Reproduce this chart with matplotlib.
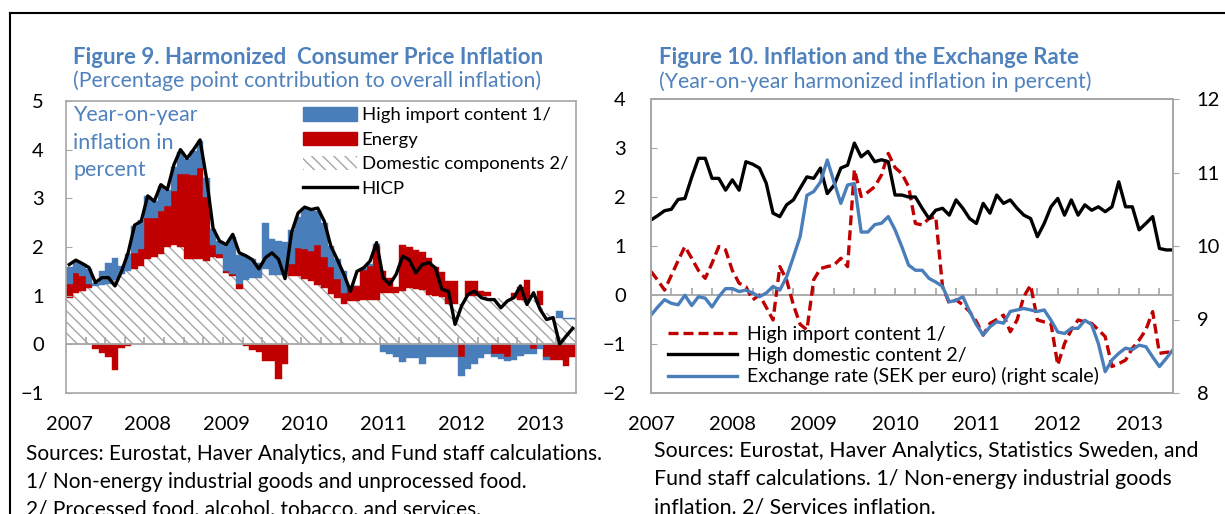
import numpy as np
import matplotlib
matplotlib.use('Agg')
import matplotlib.pyplot as plt
import matplotlib.transforms as mtransforms
from matplotlib.patches import Patch
from matplotlib.lines import Line2D

plt.rcParams['font.family'] = ['Lato', 'DejaVu Sans']
plt.rcParams['hatch.linewidth'] = 1.0

BLUE = '#4a7ebb'
RED = '#c00000'
GRAY = '#a6a6a6'
TITLE_BLUE = '#4f81bd'
HATCH = '\\\\\\'
FS = 14.5  # tick label size

# ─── data (monthly, Jan 2007 - Jun 2013) ─────────────────────

years = ['2007', '2008', '2009', '2010', '2011', '2012', '2013']

# Figure 9: contributions to HICP inflation (pp)
domestic = [0.95, 1.05, 1.1, 1.15, 1.2, 1.22, 1.25, 1.32, 1.45, 1.5, 1.55, 1.6,
            1.75, 1.8, 1.85, 2.0, 2.05, 2.0, 1.76, 1.75, 1.75, 1.72, 1.8, 1.78,
            1.47, 1.4, 1.13, 1.32, 1.37, 1.37, 1.54, 1.42, 1.42, 1.42, 1.4, 1.4,
            1.35, 1.3, 1.22, 1.15, 1.03, 0.95, 0.82, 0.89, 0.89, 0.92, 0.92, 0.92,
            1.06, 1.06, 1.06, 1.1, 1.16, 1.14, 1.12, 1.02, 1.0, 0.98, 0.82, 0.82,
            0.82, 1.0, 1.0, 1.0, 1.0, 0.95, 0.95, 0.95, 0.95, 0.92, 0.92, 0.92,
            0.8, 0.65, 0.55, 0.55, 0.52, 0.52]
energy = [0.28, 0.42, 0.3, 0.1, -0.09, -0.17, -0.27, -0.53, -0.07, -0.03, 0.33, 0.35,
          0.85, 0.8, 0.9, 0.85, 1.1, 1.5, 1.73, 1.72, 1.88, 1.3, 0.25, 0.08,
          0.04, 0.05, 0.1, -0.03, -0.12, -0.15, -0.34, -0.34, -0.72, -0.41, 0.25, 0.57,
          0.6, 0.62, 0.82, 0.65, 0.55, 0.4, 0.24, 0.31, 0.3, 0.6, 0.68, 1.1,
          0.45, 0.3, 0.12, 0.95, 0.85, 0.8, 0.78, 0.75, 0.58, 0.5, 0.48, 0.48,
          -0.27, 0.3, 0.3, 0.1, 0.08, -0.2, -0.2, -0.25, 0.1, 0.25, 0.4, -0.1,
          0.3, -0.27, -0.32, -0.32, -0.45, -0.27]
imports = [0.35, 0.25, 0.25, 0.3, 0.07, 0.28, 0.42, 0.45, 0.15, 0.35, 0.55, 0.6,
           0.45, 0.35, 0.5, 0.33, 0.5, 0.45, 0.32, 0.5, 0.55, 0.4, 0.33, 0.26,
           0.55, 0.75, 0.6, 0.5, 0.38, 0.3, 0.95, 0.75, 0.7, 0.68, 0.7, 0.65,
           0.85, 0.85, 0.7, 0.7, 0.45, 0.4, 0.45, 0.0, 0.0, 0.05, 0.05, 0.05,
           -0.15, -0.2, -0.27, -0.36, -0.29, -0.29, -0.4, -0.27, -0.25, -0.25, -0.27, -0.27,
           -0.38, -0.51, -0.41, -0.29, -0.2, -0.05, -0.1, -0.1, -0.32, -0.24, -0.2, -0.1,
           -0.1, -0.05, 0.0, 0.14, 0.02, 0.02]
hicp = [1.64, 1.73, 1.66, 1.58, 1.27, 1.37, 1.37, 1.2, 1.5, 1.88, 2.45, 2.53,
        3.05, 2.94, 3.28, 3.18, 3.69, 4.0, 3.82, 4.0, 4.2, 3.4, 2.38, 2.12,
        2.05, 2.26, 1.88, 1.82, 1.74, 1.55, 1.78, 1.88, 1.75, 1.35, 2.3, 2.7,
        2.82, 2.77, 2.8, 2.53, 2.02, 1.74, 1.44, 1.09, 1.5, 1.57, 1.71, 2.09,
        1.37, 1.23, 1.44, 1.81, 1.74, 1.47, 1.64, 1.68, 1.57, 1.13, 1.09, 0.41,
        0.79, 1.03, 1.09, 0.96, 0.92, 0.92, 0.75, 0.89, 0.96, 1.2, 0.82, 1.06,
        0.72, 0.51, 0.55, 0.0, 0.17, 0.33]

# Figure 10: inflation (percent) and SEK per euro
high_import = [0.48, 0.3, 0.1, 0.4, 0.7, 0.99, 0.75, 0.5, 0.34, 0.65, 0.99, 0.92,
               0.5, 0.24, 0.17, -0.1, 0.0, -0.25, -0.51, 0.58, 0.31, -0.2, -0.6, -0.71,
               0.31, 0.54, 0.58, 0.61, 0.75, 0.58, 2.56, 2.01, 2.1, 2.21, 2.45, 2.89,
               2.6, 2.48, 2.21, 1.46, 1.43, 1.56, 1.6, 0.17, -0.17, -0.1, -0.2, -0.34,
               -0.54, -0.82, -0.58, -0.5, -0.41, -0.75, -0.51, -0.03, 0.2, -0.51, -0.55, -0.58,
               -1.43, -0.99, -0.71, -0.51, -0.55, -0.58, -0.71, -0.85, -1.46, -1.4, -1.33, -1.09,
               -0.92, -0.71, -0.34, -1.19, -1.17, -1.16]
high_domestic = [1.53, 1.62, 1.72, 1.75, 1.95, 1.97, 2.4, 2.79, 2.79, 2.38, 2.38, 2.14,
                 2.35, 2.14, 2.72, 2.67, 2.59, 2.28, 1.67, 1.6, 1.84, 1.94, 2.18, 2.41,
                 2.38, 2.59, 2.07, 2.24, 2.59, 2.65, 3.1, 2.82, 2.93, 2.72, 2.76, 2.72,
                 2.04, 2.04, 2.0, 2.0, 1.77, 1.56, 1.73, 1.77, 1.63, 1.94, 1.77, 1.56,
                 1.46, 1.87, 1.67, 2.04, 1.87, 1.94, 1.77, 1.63, 1.56, 1.19, 1.46, 1.8,
                 1.97, 1.63, 1.94, 1.63, 1.84, 1.73, 1.8, 1.7, 1.8, 2.31, 1.8, 1.8,
                 1.33, 1.46, 1.6, 0.95, 0.92, 0.92]
sek_per_euro = [9.06, 9.17, 9.27, 9.22, 9.2, 9.33, 9.19, 9.31, 9.29, 9.17, 9.31, 9.42,
                9.42, 9.38, 9.4, 9.36, 9.31, 9.36, 9.45, 9.4, 9.58, 9.85, 10.13, 10.69,
                10.74, 10.87, 11.17, 10.87, 10.58, 10.83, 10.85, 10.19, 10.19, 10.29, 10.31, 10.4,
                10.22, 9.99, 9.74, 9.67, 9.67, 9.56, 9.51, 9.45, 9.24, 9.26, 9.31, 9.11,
                8.93, 8.79, 8.9, 8.97, 8.95, 9.11, 9.13, 9.15, 9.13, 9.11, 9.13, 8.99,
                8.83, 8.81, 8.88, 8.88, 8.99, 8.93, 8.67, 8.29, 8.45, 8.54, 8.61, 8.59,
                8.65, 8.63, 8.49, 8.36, 8.47, 8.59]

# ─── layout helpers ──────────────────────────────────────────

W, H = 1225, 514


def px_box(x0, y0, x1, y1):
    """pixel box (top-left origin) -> figure fraction rect"""
    return [x0 / W, 1 - y1 / H, (x1 - x0) / W, (y1 - y0) / H]


def gray_frame(ax):
    for sp in ax.spines.values():
        sp.set_color(GRAY)
        sp.set_linewidth(1.2)


def year_labels(ax, y_axes):
    # one label under each January
    trans = mtransforms.blended_transform_factory(ax.transData, ax.transAxes)
    for k, yr in enumerate(years):
        ax.text(12 * k, y_axes, yr, transform=trans, ha='center', va='center',
                fontsize=FS, clip_on=False)


fig = plt.figure(figsize=(W / 100, H / 100), dpi=100)

# ─── Figure 9: stacked contributions ─────────────────────────

ax1 = fig.add_axes(px_box(66, 101, 576, 393))
x = np.arange(len(hicp))
dom = np.array(domestic)
en = np.array(energy)
im = np.array(imports)

en_bottom = np.where(en >= 0, dom, 0)
im_bottom = np.where(im >= 0, dom + np.maximum(en, 0), np.minimum(en, 0))

ax1.bar(x, dom, width=1.0, color='white', edgecolor=GRAY, hatch=HATCH, linewidth=0)
ax1.bar(x, en, bottom=en_bottom, width=1.0, color=RED, edgecolor=RED, linewidth=0.3)
ax1.bar(x, im, bottom=im_bottom, width=1.0, color=BLUE, edgecolor=BLUE, linewidth=0.3)
ax1.axhline(0, color=GRAY, lw=1.3, zorder=3)
ax1.vlines(np.arange(2.5, len(x) - 1, 3), 0, 0.16, color=GRAY, lw=1.2, zorder=3)
ax1.plot(x, hicp, color='black', lw=2.4, zorder=4)

ax1.set_xlim(-0.5, len(x) - 0.5)
ax1.set_ylim(-1, 5)
ax1.set_yticks(range(-1, 6))
ax1.tick_params(axis='y', direction='in', length=4, color=GRAY, pad=16, labelsize=FS)
ax1.tick_params(axis='x', bottom=False, labelbottom=False)
gray_frame(ax1)
year_labels(ax1, (393 - 425) / 292)

ax1.text(0.014, 0.985, 'Year-on-year\ninflation in\npercent', transform=ax1.transAxes,
         ha='left', va='top', color=TITLE_BLUE, fontsize=15.5, linespacing=1.45)

leg1_handles = [
    Patch(facecolor=BLUE, edgecolor=BLUE),
    Patch(facecolor=RED, edgecolor=RED),
    Patch(facecolor='white', edgecolor=GRAY, hatch=HATCH, linewidth=0),
    Line2D([], [], color='black', lw=2.4),
]
leg1_labels = ['High import content 1/', 'Energy', 'Domestic components 2/', 'HICP']
ax1.legend(leg1_handles, leg1_labels, loc='upper left',
           bbox_to_anchor=(303 / W, 1 - 107 / H), bbox_transform=fig.transFigure,
           frameon=False, fontsize=13.3, handlelength=2.95, handleheight=0.75,
           handletextpad=0.22, labelspacing=0.45, borderpad=0, borderaxespad=0)

# ─── Figure 10: inflation vs exchange rate ───────────────────

ax3 = fig.add_axes(px_box(651, 99, 1173, 393))
xr = np.arange(len(high_domestic))
ln_imp, = ax3.plot(xr, high_import, color=RED, lw=2.4, dashes=(3, 1.5))
ln_dom, = ax3.plot(xr, high_domestic, color='black', lw=2.4)
ax3.axhline(0, color=GRAY, lw=1.3, zorder=1)
ax3.vlines(np.arange(0, len(xr), 3), 0, 0.14, color=GRAY, lw=1.2, zorder=1)
ax3.set_xlim(0, len(xr) - 1)
ax3.set_ylim(-2, 4)
ax3.set_yticks(range(-2, 5))
ax3.tick_params(axis='y', direction='in', length=4, color=GRAY, pad=18, labelsize=FS)
ax3.tick_params(axis='x', bottom=False, labelbottom=False)
gray_frame(ax3)
year_labels(ax3, (393 - 424) / 294)

ax4 = ax3.twinx()
ln_fx, = ax4.plot(xr, sek_per_euro, color=BLUE, lw=2.4)
ax4.set_ylim(8, 12)
ax4.set_yticks(range(8, 13))
ax4.tick_params(axis='y', direction='out', length=4, color=GRAY, pad=13, labelsize=FS)
gray_frame(ax4)

ax4.legend([ln_imp, ln_dom, ln_fx],
           ['High import content 1/', 'High domestic content 2/',
            'Exchange rate (SEK per euro) (right scale)'],
           loc='upper left', bbox_to_anchor=(668 / W, 1 - 326 / H),
           bbox_transform=fig.transFigure, frameon=False, fontsize=14,
           handlelength=3.55, handletextpad=0.5, labelspacing=0.19,
           borderpad=0, borderaxespad=0)

# ─── titles, notes, frame ────────────────────────────────────

fig.text(73 / W, 1 - 57 / H, 'Figure 9. Harmonized  Consumer Price Inflation',
         color=TITLE_BLUE, fontsize=16, fontweight='bold', va='center')
fig.text(73 / W, 1 - 81 / H, '(Percentage point contribution to overall inflation)',
         color=TITLE_BLUE, fontsize=15.3, va='center')
fig.text(659 / W, 1 - 57 / H, 'Figure 10. Inflation and the Exchange Rate',
         color=TITLE_BLUE, fontsize=16, fontweight='bold', va='center')
fig.text(659 / W, 1 - 82 / H, '(Year-on-year harmonized inflation in percent)',
         color=TITLE_BLUE, fontsize=15.3, va='center')

left_notes = ['Sources: Eurostat, Haver Analytics, and Fund staff calculations.',
              '1/ Non-energy industrial goods and unprocessed food.',
              '2/ Processed food, alcohol, tobacco, and services.']
for k, line in enumerate(left_notes):
    fig.text(26 / W, 1 - (454 + 27.5 * k) / H, line, fontsize=15, va='center')

right_notes = ['Sources: Eurostat, Haver Analytics, Statistics Sweden, and',
               'Fund staff calculations. 1/ Non-energy industrial goods',
               'inflation. 2/ Services inflation.']
for k, line in enumerate(right_notes):
    fig.text(654 / W, 1 - (451 + 28 * k) / H, line, fontsize=15.4, va='center')

fig.add_artist(Line2D([10 / W, 1], [1 - 13 / H, 1 - 13 / H], color='black', lw=1.5,
                      transform=fig.transFigure))
fig.add_artist(Line2D([10 / W, 10 / W], [1 - 13 / H, 0], color='black', lw=1.5,
                      transform=fig.transFigure))

fig.savefig('out.png', dpi=100)
plt.close(fig)
